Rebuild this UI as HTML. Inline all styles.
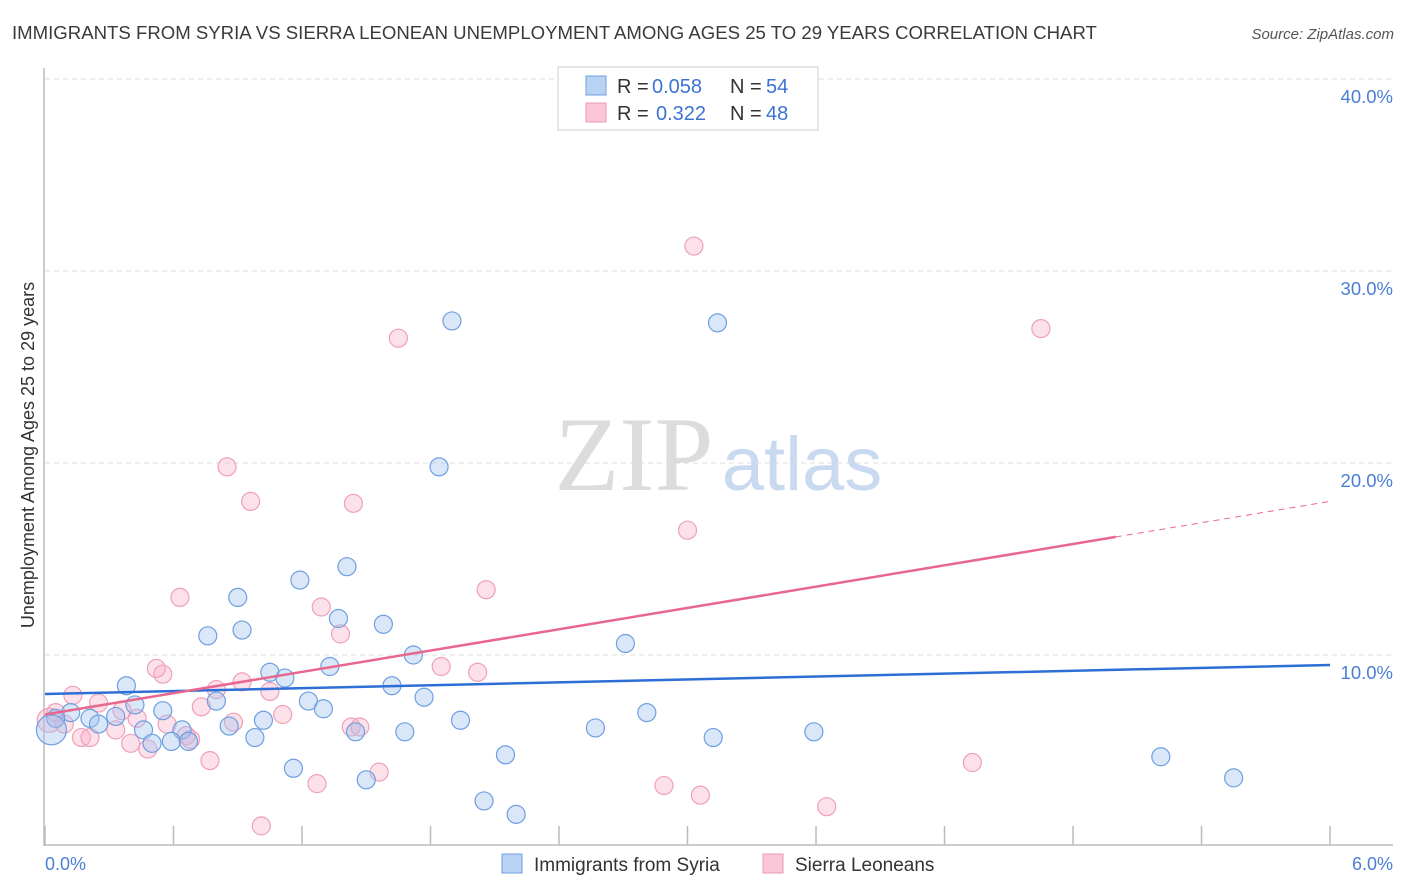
<!DOCTYPE html>
<html><head><meta charset="utf-8"><style>
body{margin:0;background:#fff;font-family:"Liberation Sans",sans-serif;}
svg{display:block}
</style></head><body>
<svg id="chart" width="1406" height="892">
<text x="12" y="39" font-size="18.6" fill="#3a3a3a">IMMIGRANTS FROM SYRIA VS SIERRA LEONEAN UNEMPLOYMENT AMONG AGES 25 TO 29 YEARS CORRELATION CHART</text>
<text x="1394" y="39" font-size="15" fill="#555" font-style="italic" text-anchor="end">Source: ZipAtlas.com</text>
<g>
<text x="634" y="490" font-size="106" fill="#dcdcdc" font-family="Liberation Serif,serif" text-anchor="middle">ZIP</text>
<text x="802" y="490" font-size="76" fill="#c8d9f0" text-anchor="middle">atlas</text>
</g>
<g id="grid"></g>
<line x1="44" y1="68" x2="44" y2="846" stroke="#bbb" stroke-width="1.5"/>
<line x1="44" y1="845" x2="1393" y2="845" stroke="#bbb" stroke-width="1.5"/>
<g id="xticks"></g>
<g id="pts"></g>
<g id="trend"></g>
<text x="45" y="870" font-size="18" fill="#4a7fd6">0.0%</text>
<text x="1393" y="870" font-size="18" fill="#4a7fd6" text-anchor="end">6.0%</text>
<text transform="translate(34,455) rotate(-90)" font-size="18" fill="#333" text-anchor="middle">Unemployment Among Ages 25 to 29 years</text>
<g>
<rect x="558" y="67" width="260" height="63" fill="#fff" stroke="#ccc"/>
<rect x="586" y="76" width="20" height="19" fill="#b9d3f5" stroke="#6f9fe0"/>
<rect x="586" y="103" width="20" height="19" fill="#fbc6d6" stroke="#ec9ab5"/>
<text x="617" y="93" font-size="20" fill="#333">R = <tspan x="652" fill="#3b73d4">0.058</tspan><tspan x="730">N = </tspan><tspan x="766" fill="#3b73d4">54</tspan></text>
<text x="617" y="120" font-size="20" fill="#333">R = <tspan x="656" fill="#3b73d4">0.322</tspan><tspan x="730">N = </tspan><tspan x="766" fill="#3b73d4">48</tspan></text>
</g>
<g>
<rect x="502" y="854" width="20" height="19" fill="#b9d3f5" stroke="#6f9fe0"/>
<text x="534" y="871" font-size="19" fill="#333">Immigrants from Syria</text>
<rect x="763" y="854" width="20" height="19" fill="#fbc6d6" stroke="#ec9ab5"/>
<text x="795" y="871" font-size="19" fill="#333">Sierra Leoneans</text>
</g>
</svg>
<script>
const yTicks=[10,20,30,40];
const xTickVals=[0,0.6,1.2,1.8,2.4,3.0,3.6,4.2,4.8,5.4,6.0];
const syriaX=[1.90,3.14,1.84,1.41,1.19,0.90,1.37,1.58,0.92,0.76,2.71,1.72,1.33,1.05,1.12,0.38,1.62,1.23,0.42,1.77,0.80,1.30,2.81,0.55,1.02,1.94,0.21,0.33,0.12,0.05,0.25,0.46,0.86,0.64,1.68,1.45,2.57,3.59,3.12,0.98,0.50,0.59,0.67,2.15,5.21,1.16,5.55,1.50,2.05,2.20,0.03];
const syriaY=[27.4,27.3,19.8,14.6,13.9,13.0,11.9,11.6,11.3,11.0,10.6,10.0,9.4,9.1,8.8,8.4,8.4,7.6,7.4,7.8,7.6,7.2,7.0,7.1,6.6,6.6,6.7,6.8,7.0,6.7,6.4,6.1,6.3,6.1,6.0,6.0,6.2,6.0,5.7,5.7,5.4,5.5,5.5,4.8,4.7,4.1,3.6,3.5,2.4,1.7,6.1];
const syriaR=[9,9,9,9,9,9,9,9,9,9,9,9,9,9,9,9,9,9,9,9,9,9,9,9,9,9,9,9,9,9,9,9,9,9,9,9,9,9,9,9,9,9,9,9,9,9,9,9,9,9,15];
const sierraX=[3.03,4.65,1.65,0.85,0.96,1.44,3.00,2.06,0.63,1.29,1.38,0.52,0.55,1.85,2.02,0.92,0.80,1.05,0.13,0.73,0.25,1.11,0.36,0.43,0.88,0.57,0.05,0.09,0.33,1.43,1.47,0.66,0.68,0.17,0.21,0.40,0.48,0.77,1.56,4.33,1.27,2.89,3.06,3.65,1.01,0.02];
const sierraY=[31.3,27.0,26.5,19.8,18.0,17.9,16.5,13.4,13.0,12.5,11.1,9.3,9.0,9.4,9.1,8.6,8.2,8.1,7.9,7.3,7.5,6.9,7.1,6.7,6.5,6.4,7.0,6.4,6.1,6.25,6.25,5.8,5.6,5.7,5.7,5.4,5.1,4.5,3.9,4.4,3.3,3.2,2.7,2.1,1.1,6.6];
const syriaTrend=[7.97,9.48];
const sierraTrend=[6.9,18.0];
const NS="http://www.w3.org/2000/svg";
const X=v=>45+v*214.17, Y=v=>847-v*19.2;
function mk(t,a,p){const e=document.createElementNS(NS,t);for(const k in a)e.setAttribute(k,a[k]);p.appendChild(e);return e;}
const grid=document.getElementById('grid');
yTicks.forEach(t=>{
 const l=mk('line',{x1:45,x2:1393,y1:Y(t),y2:Y(t),stroke:'#ddd','stroke-dasharray':'5,4'},grid);
 
 
 const tx=mk('text',{x:1393,y:Y(t)+24,'font-size':18.5,fill:'#4a7fd6','text-anchor':'end'},grid);
 tx.textContent=t.toFixed(1)+'%';
 
 
});
const xt=document.getElementById('xticks');
xTickVals.forEach(v=>{
 const l=mk('line',{x1:X(v),x2:X(v),y1:826,y2:845,stroke:'#bbb','stroke-width':1.5},xt);
 
 
});
const pts=document.getElementById('pts');
sierraX.forEach((x,i)=>{
 const c=mk('circle',{cx:X(x),cy:Y(sierraY[i]),r:i==sierraX.length-1?12:9,fill:'rgba(248,170,195,0.35)',stroke:'#eea0b9','stroke-width':1.2},pts);
 
 
});
syriaX.forEach((x,i)=>{
 const c=mk('circle',{cx:X(x),cy:Y(syriaY[i]),r:syriaR[i],fill:'rgba(160,195,240,0.4)',stroke:'#6f9fe0','stroke-width':1.2},pts);
 
 
});
const tr=document.getElementById('trend');
const sl=mk('line',{x1:X(0),y1:Y(syriaTrend[0]),x2:X(6),y2:Y(syriaTrend[1]),stroke:'#2d6fd6','stroke-width':2.5},tr);


const pAt=v=>sierraTrend[0]+(sierraTrend[1]-sierraTrend[0])*v/6;
const pl=mk('line',{x1:X(0),y1:Y(pAt(0)),x2:X(5),y2:Y(pAt(5)),stroke:'#e8678f','stroke-width':2.5},tr);


const pd=mk('line',{x1:X(5),y1:Y(pAt(5)),x2:X(6),y2:Y(pAt(6)),stroke:'#e8678f','stroke-width':1,'stroke-dasharray':'6,5'},tr);


</script>
</body></html>
